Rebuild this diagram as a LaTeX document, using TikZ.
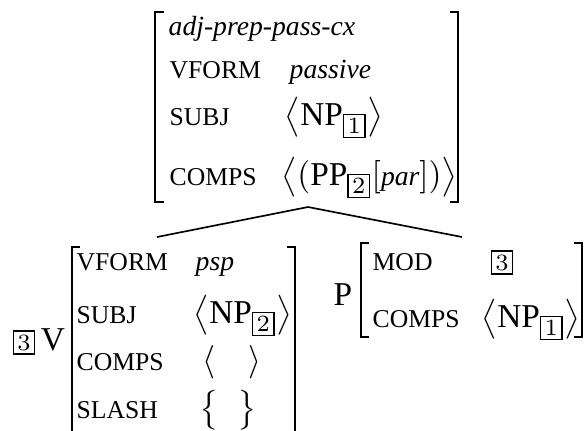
\documentclass[tikz,border=0pt]{standalone}
\usepackage{amsmath}
\usepackage{fontspec}
\setmainfont{Liberation Serif}
\usetikzlibrary{calc}

\newcommand{\tagbox}[1]{{\setlength{\fboxsep}{1pt}\fbox{$\scriptstyle #1$}}}
\newcommand{\valit}[1]{\text{\fontsize{8.3}{10}\selectfont\itshape #1}}

\tikzset{
  feat/.style={anchor=base west, inner sep=0pt, font=\fontsize{7.7}{9}\selectfont},
  txtval/.style={anchor=base west, inner sep=0pt, font=\fontsize{8.3}{10}\selectfont\itshape},
  val/.style={anchor=base west, inner sep=0pt},
  avmbracket/.style={line width=0.5pt},
  branch/.style={line width=0.5pt}
}

\begin{document}
\begin{tikzpicture}[x=0.3pt,y=-0.3pt]
\useasboundingbox (0,0) rectangle (587,430);

% =====================
% Mother AVM
% =====================
\draw[avmbracket] (164,12) -- (155,12) -- (155,202) -- (164,202);
\draw[avmbracket] (450,12) -- (458,12) -- (458,202) -- (450,202);
\node[txtval] (mtype) at (168,35) {adj-prep-pass-cx};
\node[feat] (mvform) at (169,78) {VFORM};
\node[txtval] (mvformv) at (289,78) {passive};
\node[feat] (msubj) at (169,125) {SUBJ};
\node[val] (msubjv) at (284,125) {$\left\langle \mathrm{NP}_{\tagbox{1}} \right\rangle$};
\node[feat] (mcomps) at (169,185) {COMPS};
\node[val] (mcompsv) at (281,185) {$\left\langle (\mathrm{PP}_{\tagbox{2}}[\valit{par}]) \right\rangle$};
\coordinate (apex) at (308,207);

% =====================
% Left daughter: the verb
% =====================
\node[val] (vnode) at (12,350) {$\tagbox{3}\,\mathrm{V}$};
\draw[avmbracket] (80,247) -- (72,247) -- (72,470);
\draw[avmbracket] (287,247) -- (295,247) -- (295,470);
\node[feat] (vvform) at (76,270) {VFORM};
\node[txtval] (vvformv) at (195,270) {psp};
\node[feat] (vsubj) at (76,323) {SUBJ};
\node[val] (vsubjv) at (193,323) {$\left\langle \mathrm{NP}_{\tagbox{2}} \right\rangle$};
\node[feat] (vcomps) at (76,370) {COMPS};
\node[val] (vcompsv) at (202,370) {$\langle \quad \rangle$};
\node[feat] (vslash) at (76,418) {SLASH};
\node[val] (vslashv) at (199,418) {$\left\{ \vphantom{\mathrm{NP}_{\tagbox{2}}} \;\; \right\}$};
\coordinate (vtop) at (157,237);

% =====================
% Right daughter: the preposition
% =====================
\node[val] (pnode) at (333,305) {$\mathrm{P}$};
\draw[avmbracket] (369,243) -- (361,243) -- (361,337) -- (369,337);
\draw[avmbracket] (574,243) -- (582,243) -- (582,337) -- (574,337);
\node[feat] (pmod) at (372,270) {MOD};
\node[val] (pmodv) at (490,270) {$\tagbox{3}$};
\node[feat] (pcomps) at (372,327) {COMPS};
\node[val] (pcompsv) at (481,327) {$\left\langle \mathrm{NP}_{\tagbox{1}} \right\rangle$};
\coordinate (ptop) at (462,237);

% =====================
% Branches
% =====================
\draw[branch] (apex) -- (vtop);
\draw[branch] (apex) -- (ptop);
\end{tikzpicture}
\end{document}
